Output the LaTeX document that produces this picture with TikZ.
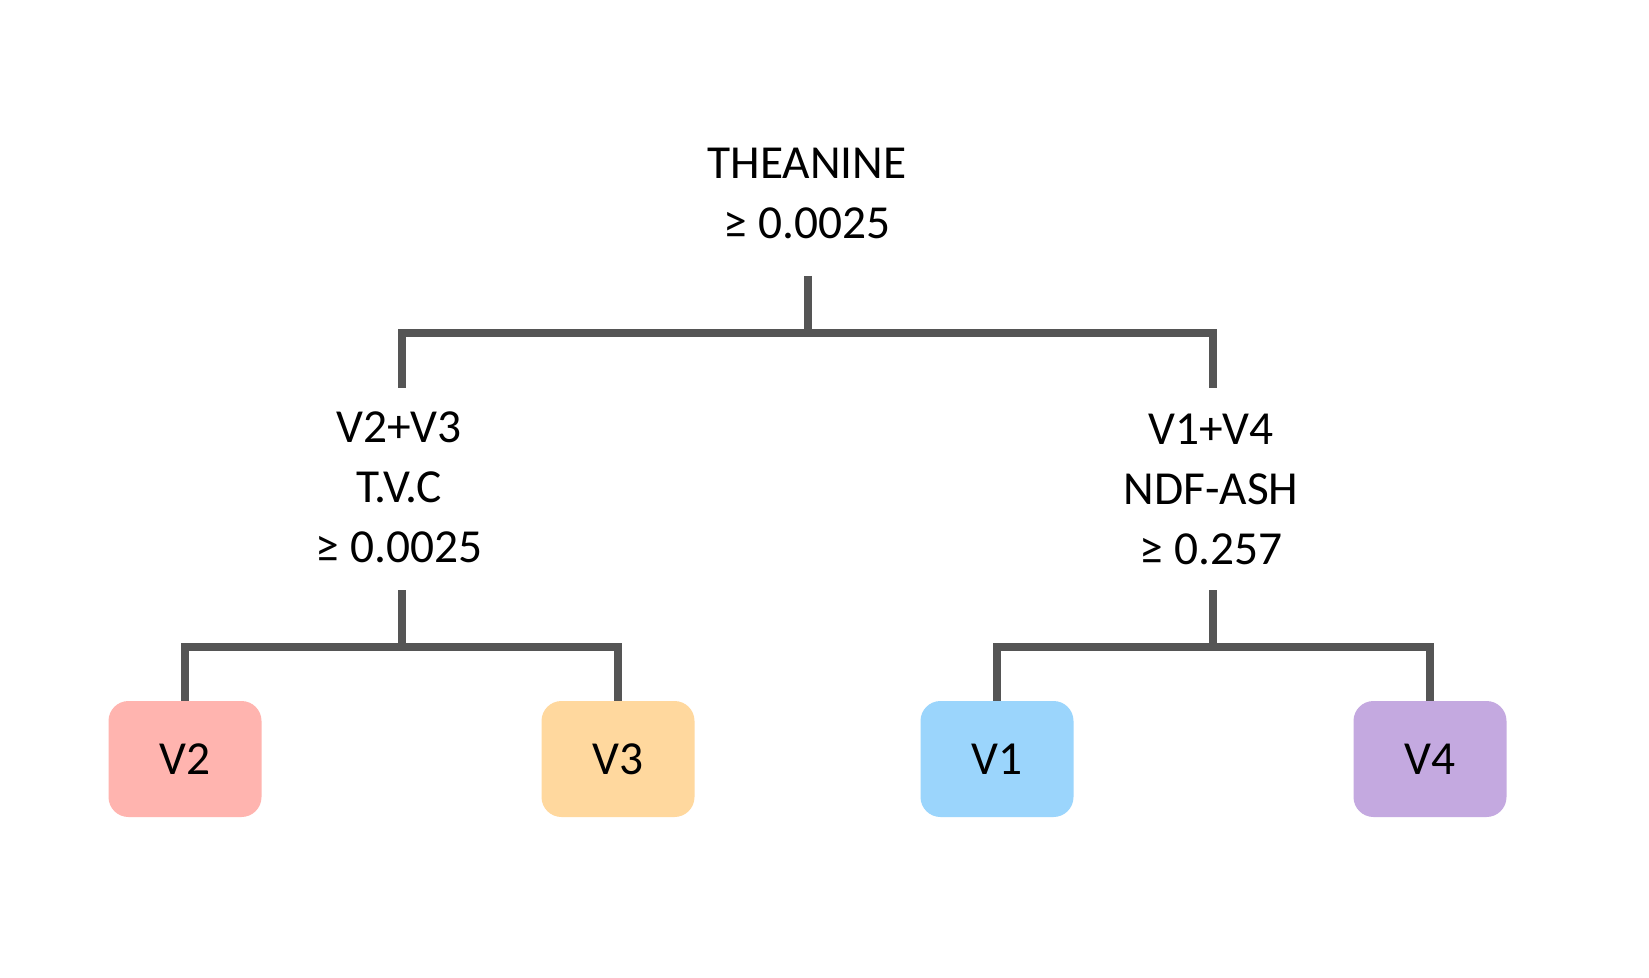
\documentclass[tikz,border=0pt]{standalone}
\usepackage{fontspec}
\setmainfont{Carlito}
\definecolor{linegray}{HTML}{555555}
\definecolor{cV2}{HTML}{FFB4AF}
\definecolor{cV3}{HTML}{FFD89E}
\definecolor{cV1}{HTML}{9BD5FC}
\definecolor{cV4}{HTML}{C4A9E0}
\tikzset{
  conn/.style={draw=linegray, line width=3.75pt, line cap=butt, line join=miter},
  splitlabel/.style={align=center, inner sep=0pt, font=\fontsize{23.7}{30}\selectfont, anchor=base},
  leafbox/.style={rounded corners=10pt, minimum width=76.5pt, minimum height=58pt, inner sep=0pt,
    font=\fontsize{23.7}{30}\selectfont, draw=none},
}
\begin{document}
\begin{tikzpicture}[x=0.5pt,y=-0.5pt]
\useasboundingbox[fill=white] (0,0) rectangle (1649,978);
% split labels (anchor = baseline of the last line)
\node[splitlabel] (root) at (807,239) {THEANINE\\≥ 0.0025};
\node[splitlabel] (left) at (399,562) {V2+V3\\T.V.C\\≥ 0.0025};
\node[splitlabel] (right) at (1211,564) {V1+V4\\NDF-ASH\\≥ 0.257};
% leaves
\node[leafbox, fill=cV2] (v2) at (185,759) {V2};
\node[leafbox, fill=cV3] (v3) at (618,759) {V3};
\node[leafbox, fill=cV1] (v1) at (997,759) {V1};
\node[leafbox, fill=cV4] (v4) at (1430,759) {V4};
% junctions and stem ends
\coordinate (rootout) at (808,276);
\coordinate (j0) at (808,333);
\coordinate (leftin) at (402,388);
\coordinate (rightin) at (1213,388);
\coordinate (leftout) at (402,590);
\coordinate (j1) at (402,647);
\coordinate (rightout) at (1213,590);
\coordinate (j2) at (1213,647);
% connectors
\draw[conn] (rootout) -- (j0);
\draw[conn] (leftin) |- (j0) -| (rightin);
\draw[conn] (leftout) -- (j1);
\draw[conn] (v2.north) |- (j1) -| (v3.north);
\draw[conn] (rightout) -- (j2);
\draw[conn] (v1.north) |- (j2) -| (v4.north);
\end{tikzpicture}
\end{document}
